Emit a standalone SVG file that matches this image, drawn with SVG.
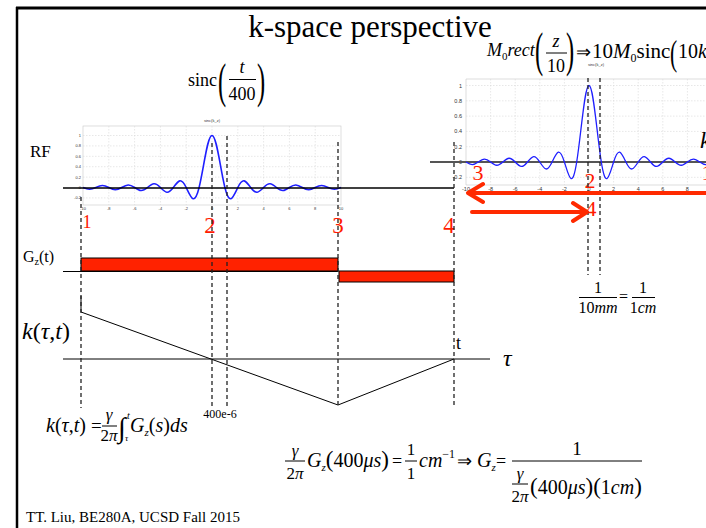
<svg xmlns="http://www.w3.org/2000/svg" width="706" height="528" viewBox="0 0 706 528">
<style>
text{font-family:"Liberation Serif","Times New Roman",serif;fill:#000}
.it{font-style:italic}
text.red{fill:#ff1a00}
.dash{stroke:#222;stroke-width:1.3;stroke-dasharray:4 3;fill:none}
.grid{stroke:#d6d6d6;stroke-width:0.6;stroke-dasharray:1.5 1.5;fill:none}
text.tk{font-family:"Liberation Sans",Arial,sans-serif;fill:#333}
.sinc{fill:none;stroke:#1f1fff;vector-effect:non-scaling-stroke}
.arr{stroke:#ff2a00;stroke-width:4;fill:none;stroke-linecap:round;stroke-linejoin:round}
.gz{fill:#ff2200;stroke:#000;stroke-width:1}
.ln{stroke:#000;fill:none}
</style>
<rect width="706" height="528" fill="#fff"/>
<g id="frame">
<line x1="16" y1="8" x2="706" y2="8" stroke="#000" stroke-width="3"/>
<line x1="17" y1="7" x2="17" y2="528" stroke="#000" stroke-width="2.5"/>
</g>
<g id="title"><text x="370" y="37" text-anchor="middle" font-size="31">k-space perspective</text></g>

<g id="rf-plot">
<rect x="83" y="126" width="258" height="79" fill="#fff" stroke="#c8c8c8" stroke-width="0.6"/>
<path class="grid" d="M108.8 126V205M134.6 126V205M160.4 126V205M186.2 126V205M212 126V205M237.8 126V205M263.6 126V205M289.4 126V205M315.2 126V205M83 197.9H341M83 177.1H341M83 166.7H341M83 156.3H341M83 145.9H341M83 135.5H341"/>
<g font-size="4" text-anchor="end">
<text class="tk" x="81" y="137">1</text><text class="tk" x="81" y="147.4">0.8</text><text class="tk" x="81" y="157.8">0.6</text><text class="tk" x="81" y="168.2">0.4</text><text class="tk" x="81" y="178.6">0.2</text><text class="tk" x="81" y="189">0</text><text class="tk" x="81" y="199.4">-0.2</text>
</g>
<g font-size="4" text-anchor="middle">
<text class="tk" x="83" y="209.5">-10</text><text class="tk" x="108.8" y="209.5">-8</text><text class="tk" x="134.6" y="209.5">-6</text><text class="tk" x="160.4" y="209.5">-4</text><text class="tk" x="186.2" y="209.5">-2</text><text class="tk" x="212" y="209.5">0</text><text class="tk" x="237.8" y="209.5">2</text><text class="tk" x="263.6" y="209.5">4</text><text class="tk" x="289.4" y="209.5">6</text><text class="tk" x="315.2" y="209.5">8</text><text class="tk" x="341" y="209.5">10</text>
<text class="tk" x="212" y="122">sinc(k_z)</text>
</g>
<path class="sinc" stroke-width="1.6" transform="translate(212,187.5) scale(12.9,-52)" d="M-10,0 C-9.5767,-0.0423 -9.4233,-0.047 -9,0 C-8.577,0.047 -8.423,0.0529 -8,0 C-7.5775,-0.0528 -7.4225,-0.0604 -7,0 C-6.5781,0.0603 -6.4219,0.0703 -6,0 C-5.5791,-0.0702 -5.4209,-0.0842 -5,0 C-4.5808,0.0838 -4.4192,0.1048 -4,0 C-3.5842,-0.104 -3.4158,-0.1386 -3,0 C-2.5926,0.1358 -2.4074,0.2037 -2,0 C-1.623,-0.189 -1.377,-0.377 -1,0 C-0.636,0.364 -0.364,1 0,1 C0.364,1 0.636,0.364 1,0 C1.377,-0.377 1.623,-0.189 2,0 C2.4074,0.2037 2.5926,0.1358 3,0 C3.4158,-0.1386 3.5842,-0.104 4,0 C4.4192,0.1048 4.5808,0.0838 5,0 C5.4209,-0.0842 5.5791,-0.0702 6,0 C6.4219,0.0703 6.5781,0.0603 7,0 C7.4225,-0.0604 7.5775,-0.0528 8,0 C8.423,0.0529 8.577,0.047 9,0 C9.4233,-0.047 9.5767,-0.0423 10,0"/>
<line x1="63" y1="188" x2="454" y2="188" stroke="#000" stroke-width="1.5"/>
</g>

<g id="kz-plot">
<path d="M706 79H466V185H706" fill="#fff" stroke="#c8c8c8" stroke-width="0.6"/>
<path class="grid" d="M490.6 79V185M515.2 79V185M539.8 79V185M564.4 79V185M589 79V185M613.6 79V185M638.2 79V185M662.8 79V185M687.4 79V185M466 85.5H706M466 100.8H706M466 116.1H706M466 131.4H706M466 146.7H706M466 177.3H706"/>
<g font-size="5.5" text-anchor="end">
<text class="tk" x="462" y="87.5">1</text><text class="tk" x="462" y="102.8">0.8</text><text class="tk" x="462" y="118.1">0.6</text><text class="tk" x="462" y="133.4">0.4</text><text class="tk" x="462" y="148.7">0.2</text><text class="tk" x="462" y="164">0</text><text class="tk" x="462" y="179.3">-0.2</text>
</g>
<g font-size="5.5" text-anchor="middle">
<text class="tk" x="466" y="190.5">-10</text><text class="tk" x="490.6" y="190.5">-8</text><text class="tk" x="515.2" y="190.5">-6</text><text class="tk" x="539.8" y="190.5">-4</text><text class="tk" x="564.4" y="190.5">-2</text><text class="tk" x="589" y="190.5">0</text><text class="tk" x="613.6" y="190.5">2</text><text class="tk" x="638.2" y="190.5">4</text><text class="tk" x="662.8" y="190.5">6</text><text class="tk" x="687.4" y="190.5">8</text>
<text class="tk" x="596" y="66" font-size="4">sinc(k_z)</text>
</g>
<line x1="430" y1="162" x2="706" y2="162" stroke="#555" stroke-width="2"/>
<path class="sinc" stroke-width="1.3" transform="translate(589,162) scale(12.3,-76.5)" d="M-10,0 C-9.5767,-0.0423 -9.4233,-0.047 -9,0 C-8.577,0.047 -8.423,0.0529 -8,0 C-7.5775,-0.0528 -7.4225,-0.0604 -7,0 C-6.5781,0.0603 -6.4219,0.0703 -6,0 C-5.5791,-0.0702 -5.4209,-0.0842 -5,0 C-4.5808,0.0838 -4.4192,0.1048 -4,0 C-3.5842,-0.104 -3.4158,-0.1386 -3,0 C-2.5926,0.1358 -2.4074,0.2037 -2,0 C-1.623,-0.189 -1.377,-0.377 -1,0 C-0.636,0.364 -0.364,1 0,1 C0.364,1 0.636,0.364 1,0 C1.377,-0.377 1.623,-0.189 2,0 C2.4074,0.2037 2.5926,0.1358 3,0 C3.4158,-0.1386 3.5842,-0.104 4,0 C4.4192,0.1048 4.5808,0.0838 5,0 C5.4209,-0.0842 5.5791,-0.0702 6,0 C6.4219,0.0703 6.5781,0.0603 7,0 C7.4225,-0.0604 7.5775,-0.0528 8,0 C8.423,0.0529 8.577,0.047 9,0 C9.4233,-0.047 9.5767,-0.0423 10,0"/>
<text x="700" y="148" font-size="24" class="it">k</text>
</g>

<g id="gz">
<line x1="63" y1="271.5" x2="338" y2="271.5" stroke="#000" stroke-width="1.2"/>
<rect class="gz" x="81" y="258" width="257" height="13"/>
<rect class="gz" x="339" y="271" width="115" height="11"/>
<text x="23" y="262" font-size="16">G<tspan font-size="10" dy="3">z</tspan><tspan dy="-3">(t)</tspan></text>
</g>

<g id="ktraj">
<line x1="63" y1="359" x2="490" y2="359" stroke="#000" stroke-width="1"/>
<polyline class="ln" stroke-width="1" points="81,296 81,312 338,405 454,359"/>
<text x="22" y="339" font-size="24"><tspan class="it">k</tspan>(<tspan class="it">τ</tspan>,<tspan class="it">t</tspan>)</text>
<text x="503" y="366" font-size="24" class="it">τ</text>
<text x="456" y="349" font-size="18">t</text>
<text x="220" y="418" font-size="12" text-anchor="middle">400e-6</text>
</g>

<g id="labels">
<text x="30" y="157" font-size="17">RF</text>
<g font-size="23" text-anchor="middle">
<text class="red" x="87" y="228" font-size="18">1</text>
<text class="red" x="210" y="233">2</text>
<text class="red" x="338" y="233">3</text>
<text class="red" x="449" y="233">4</text>
<text class="red" x="478" y="180" font-size="22">3</text>
<text class="red" x="590" y="188" font-size="22">2</text>
<text class="red" x="591" y="216" font-size="22">4</text>
<text class="red" x="707" y="180" font-size="22">1</text>
</g>
</g>

<g id="formula-sinc">
<text x="188" y="86" font-size="18">sinc</text>
<text font-size="49" transform="translate(218,97) scale(0.5,1)">(</text>
<text x="242" y="73" font-size="18" class="it" text-anchor="middle">t</text>
<line x1="229" y1="79.5" x2="256" y2="79.5" stroke="#000" stroke-width="1"/>
<text x="242" y="100" font-size="18" text-anchor="middle">400</text>
<text font-size="49" transform="translate(257,97) scale(0.5,1)">)</text>
</g>

<g id="formula-rect">
<text x="487" y="56" font-size="18"><tspan class="it">M</tspan><tspan font-size="11" dy="4">0</tspan><tspan class="it" dy="-4">rect</tspan></text>
<text font-size="49" transform="translate(535,66) scale(0.5,1)">(</text>
<text x="556" y="47" font-size="18" class="it" text-anchor="middle">z</text>
<line x1="546" y1="53" x2="567" y2="53" stroke="#000" stroke-width="1"/>
<text x="556" y="72" font-size="18" text-anchor="middle">10</text>
<text font-size="49" transform="translate(566,66) scale(0.5,1)">)</text>
<text x="576" y="58" font-size="18">⇒</text>
<text x="592" y="58" font-size="21">10<tspan class="it">M</tspan><tspan font-size="12" dy="4">0</tspan><tspan dy="-4">sinc</tspan></text>
<text font-size="36" transform="translate(670,65) scale(0.6,1)">(</text>
<text x="678" y="58" font-size="20">10<tspan class="it">k</tspan><tspan class="it" font-size="11" dy="4">z</tspan></text>
</g>

<g id="formula-res">
<text x="598" y="293" font-size="16" text-anchor="middle">1</text>
<line x1="579" y1="297.5" x2="617" y2="297.5" stroke="#000" stroke-width="1"/>
<text x="598" y="313" font-size="16" text-anchor="middle">10<tspan class="it">mm</tspan></text>
<text x="619" y="302" font-size="16">=</text>
<text x="643" y="293" font-size="16" text-anchor="middle">1</text>
<line x1="632" y1="297.5" x2="655" y2="297.5" stroke="#000" stroke-width="1"/>
<text x="643" y="313" font-size="16" text-anchor="middle">1<tspan class="it">cm</tspan></text>
</g>

<g id="formula-k">
<text x="46" y="432" font-size="20"><tspan class="it">k</tspan>(<tspan class="it">τ</tspan>,<tspan class="it">t</tspan>)</text>
<text x="91" y="432" font-size="19">=</text>
<text x="109" y="420" font-size="17" class="it" text-anchor="middle">γ</text>
<line x1="102" y1="426" x2="117" y2="426" stroke="#000" stroke-width="1"/>
<text x="109" y="441" font-size="17" text-anchor="middle">2<tspan class="it">π</tspan></text>
<text x="118" y="437" font-size="28">∫</text>
<text x="127" y="419" font-size="10" class="it">t</text>
<text x="125" y="441" font-size="9" class="it">τ</text>
<text x="130" y="432" font-size="20"><tspan class="it">G</tspan><tspan class="it" font-size="11" dy="4">z</tspan><tspan dy="-4">(</tspan><tspan class="it">s</tspan>)<tspan class="it">ds</tspan></text>
</g>

<g id="formula-gz">
<text x="295" y="456" font-size="17" class="it" text-anchor="middle">γ</text>
<line x1="285" y1="461" x2="305" y2="461" stroke="#000" stroke-width="1"/>
<text x="295" y="479" font-size="17" text-anchor="middle">2<tspan class="it">π</tspan></text>
<text x="307" y="467" font-size="20"><tspan class="it">G</tspan><tspan class="it" font-size="11" dy="4">z</tspan><tspan dy="-4" font-size="23">(</tspan>400<tspan class="it">μs</tspan><tspan font-size="23">)</tspan></text>
<text x="392" y="467" font-size="18">=</text>
<text x="411" y="455" font-size="17" text-anchor="middle">1</text>
<line x1="405" y1="461" x2="417" y2="461" stroke="#000" stroke-width="1"/>
<text x="411" y="479" font-size="17" text-anchor="middle">1</text>
<text x="419" y="467" font-size="20" class="it">cm<tspan font-size="12" dy="-9" font-style="normal">−1</tspan></text>
<text x="457" y="467" font-size="18">⇒</text>
<text x="477" y="467" font-size="20"><tspan class="it">G</tspan><tspan class="it" font-size="11" dy="4">z</tspan></text>
<text x="496" y="467" font-size="18">=</text>
<line x1="512" y1="461" x2="642" y2="461" stroke="#000" stroke-width="1"/>
<text x="577" y="455" font-size="19" text-anchor="middle">1</text>
<text x="520" y="479" font-size="17" class="it" text-anchor="middle">γ</text>
<line x1="512" y1="484" x2="528" y2="484" stroke="#000" stroke-width="1"/>
<text x="520" y="502" font-size="17" text-anchor="middle">2<tspan class="it">π</tspan></text>
<text x="530" y="494" font-size="20"><tspan font-size="23">(</tspan>400<tspan class="it">μs</tspan><tspan font-size="23">)(</tspan>1<tspan class="it">cm</tspan><tspan font-size="23">)</tspan></text>
</g>

<g id="footer"><text x="26" y="522" font-size="15">TT. Liu, BE280A, UCSD Fall 2015</text></g>

<g id="connectors">
<path class="dash" d="M81 197V408M212 143V408M227 136V408M338 142V408M454 142V408M588 78V275M600 78V275"/>
<path class="arr" d="M706 193H468M483 184L468 193L483 202"/>
<path class="arr" d="M472 212H587M573 203L587 212L573 221"/>
</g>
</svg>
